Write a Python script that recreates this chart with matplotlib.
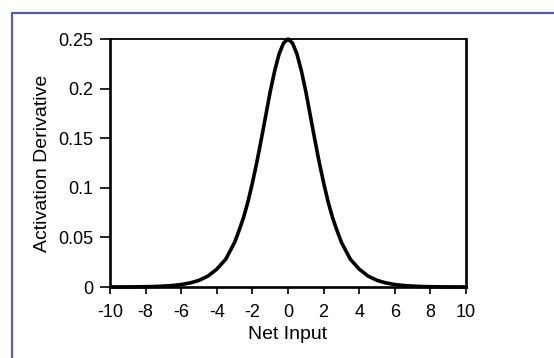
import matplotlib
matplotlib.use("Agg")
import matplotlib.pyplot as plt
from matplotlib.lines import Line2D

plt.rcParams['font.family'] = ['Liberation Sans', 'DejaVu Sans']
plt.rcParams['axes.unicode_minus'] = False

# values (right half, mirrored for the left)
net_half = [0, 0.25, 0.5, 0.75, 1, 1.25, 1.5, 1.75, 2, 2.25, 2.5, 2.75, 3,
            3.5, 4, 4.5, 5, 5.5, 6, 6.5, 7, 7.5, 8, 8.5, 9, 9.5, 10]
deriv_half = [0.25, 0.246, 0.235, 0.218, 0.197, 0.173, 0.149, 0.126, 0.105,
              0.086, 0.070, 0.057, 0.045, 0.028, 0.018, 0.011, 0.0067,
              0.0041, 0.0025, 0.0015, 0.0009, 0.0005, 0.0003, 0.0002,
              0.0001, 0.0001, 0.0]

net_input = [-v for v in net_half[::-1]] + net_half[1:]
deriv = deriv_half[::-1] + deriv_half[1:]

xticks = [-10, -8, -6, -4, -2, 0, 2, 4, 6, 8, 10]
yticks = [0, 0.05, 0.1, 0.15, 0.2, 0.25]
ytick_labels = ['0', '0.05', '0.1', '0.15', '0.2', '0.25']

fig = plt.figure(figsize=(5.54, 3.58), dpi=100)
ax = fig.add_axes([0.1986, 0.1983, 0.6426, 0.6927])

ax.plot(net_input, deriv, color='black', lw=2.6, clip_on=False,
        solid_capstyle='butt')

ax.set_xlim(-10, 10)
ax.set_ylim(0, 0.25)
ax.set_xticks(xticks)
ax.set_yticks(yticks)
ax.set_yticklabels(ytick_labels)
ax.tick_params(direction='out', width=1.2, labelsize=13, colors='black')
ax.tick_params(axis='x', length=5, pad=7)
ax.tick_params(axis='y', length=7, pad=5)

for side in ['left', 'bottom', 'right']:
    ax.spines[side].set_linewidth(1.9)
ax.spines['top'].set_linewidth(1.3)

ax.set_xlabel('Net Input', fontsize=14, labelpad=4)
ax.set_ylabel('Activation Derivative', fontsize=14, labelpad=5)

# blue frame of the original scan
fig.add_artist(Line2D([12 / 554, 12 / 554, 1], [0, 1 - 12.5 / 358, 1 - 12.5 / 358],
                      transform=fig.transFigure, color='#5a5ab0', lw=1.6))

fig.savefig('out.png', dpi=100)
